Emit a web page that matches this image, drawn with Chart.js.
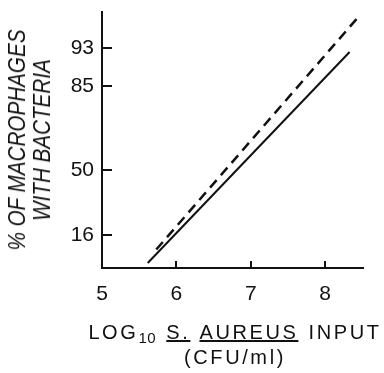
<!DOCTYPE html>
<html>
<head>
<meta charset="utf-8">
<script src="https://cdn.jsdelivr.net/npm/chart.js@4"></script>
<style>
  html, body { margin: 0; padding: 0; background: #fff; }
  #wrap { position: relative; width: 384px; height: 373px; overflow: hidden; }
  #chart { position: absolute; left: 0; top: 0; }
  .ttl { position: absolute; font-family: "Liberation Sans", Arial, sans-serif; color: #111; white-space: nowrap; }
  #xTitle { left: 0; width: 470px; top: 320px; font-size: 20px; letter-spacing: 2.6px; word-spacing: 2px; text-align: center; line-height: 25px; }
  #xTitle sub { font-size: 15px; letter-spacing: 0.5px; vertical-align: -4px; line-height: 0; }
  #yTitle { left: 29px; top: 140px; width: 340px; font-size: 24px; font-style: italic; line-height: 25px;
            text-align: center; transform: translate(-50%, -50%) rotate(-90deg) scaleX(0.86); }
</style>
</head>
<body>
<div id="wrap">
  <canvas id="chart" width="384" height="373"></canvas>
  <div id="yTitle" class="ttl">% OF MACROPHAGES<br>WITH BACTERIA</div>
  <div id="xTitle" class="ttl">LOG<sub>10</sub> <u>S.</u> <u>AUREUS</u> INPUT<br>(CFU/ml)</div>
</div>
<script>
// x: log10 S. aureus input; y: position on the (probability) axis, 50% = 0
const xTicks = [5, 6, 7, 8];
const yTickPos = [-0.995, 0, 1.286, 1.867];
const yTickLabels = ['16', '50', '85', '93'];

const solidX = [5.615, 8.33];
const solidY = [-1.424, 1.806];
const dashX = [5.73, 8.43];
const dashY = [-1.217, 2.319];

const toPts = (xs, ys) => xs.map((x, i) => ({x: x, y: ys[i]}));

// inward tick marks
const innerTicks = {
    id: 'innerTicks',
    afterDraw(chart) {
        const ctx = chart.ctx;
        const xs = chart.scales.x, ys = chart.scales.y;
        ctx.save();
        ctx.strokeStyle = '#111';
        ctx.lineWidth = 2;
        ctx.beginPath();
        xTicks.slice(1).forEach(v => {
            const px = Math.round(xs.getPixelForValue(v));
            ctx.moveTo(px, ys.bottom);
            ctx.lineTo(px, ys.bottom - 7);
        });
        yTickPos.forEach(v => {
            const py = Math.round(ys.getPixelForValue(v));
            ctx.moveTo(xs.left, py);
            ctx.lineTo(xs.left + 10, py);
        });
        ctx.stroke();
        ctx.restore();
    }
};

const tickFont = {family: '"Liberation Sans", Arial, sans-serif', size: 21};
const noPad = s => { s.paddingTop = 0; s.paddingBottom = 0; s.paddingLeft = 0; s.paddingRight = 0; };

new Chart(document.getElementById('chart'), {
    type: 'scatter',
    data: {
        datasets: [{
            data: toPts(solidX, solidY),
            showLine: true,
            borderColor: '#111',
            borderWidth: 2,
            pointRadius: 0
        }, {
            data: toPts(dashX, dashY),
            showLine: true,
            borderColor: '#111',
            borderWidth: 2.5,
            borderDash: [10, 6.4],
            pointRadius: 0
        }]
    },
    options: {
        responsive: false,
        animation: false,
        layout: {padding: {left: 0, top: 12, right: 21, bottom: 0}},
        plugins: {legend: {display: false}, tooltip: {enabled: false}},
        scales: {
            x: {
                type: 'linear', min: 5, max: 8.51,
                afterBuildTicks: s => { s.ticks = xTicks.map(v => ({value: v})); },
                afterFit: s => { s.height = 105; noPad(s); },
                grid: {display: false, drawTicks: false},
                border: {display: true, color: '#111', width: 2},
                ticks: {color: '#111', font: tickFont, padding: 14, maxRotation: 0}
            },
            y: {
                type: 'linear', min: -1.5, max: 2.418,
                afterBuildTicks: s => { s.ticks = yTickPos.map(v => ({value: v})); },
                afterFit: s => { s.width = 102; noPad(s); },
                grid: {display: false, drawTicks: false},
                border: {display: true, color: '#111', width: 2},
                ticks: {
                    color: '#111', font: tickFont, padding: 8,
                    callback: (v, i) => yTickLabels[i]
                }
            }
        }
    },
    plugins: [innerTicks]
});
</script>
</body>
</html>
